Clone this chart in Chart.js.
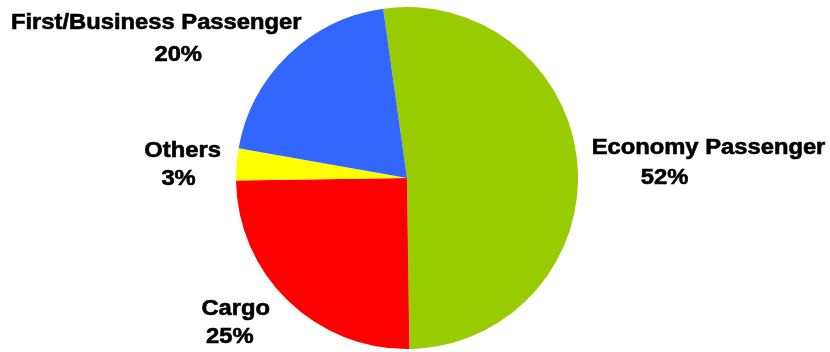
<!DOCTYPE html>
<html>
<head>
<meta charset="utf-8">
<title>Ingresos por segmento</title>
<script src="https://cdn.jsdelivr.net/npm/chart.js@4/dist/chart.umd.min.js"></script>
<style>
    body { margin: 0; background: #ffffff; }
    canvas { display: block; }
</style>
</head>
<body>
<canvas id="graficoIngresos" width="830" height="352"></canvas>
<script>
// Datos del gráfico
var categorias = ["Economy Passenger", "Cargo", "Others", "First/Business Passenger"];
var porcentajes = [52, 25, 3, 20];
var colores = ["#99cc00", "#ff0000", "#ffff00", "#3366ff"];

// Desplazamiento de cada línea de etiqueta (nombre, porcentaje) respecto al borde exterior del sector
var desplazamientos = [
    [[131, -17], [87, 13]],
    [[-52, 8], [-58, 36]],
    [[-54, -13], [-58, 15]],
    [[-132, -32], [-110, 0]],
];

// Plugin para dibujar las etiquetas fuera del pastel
var etiquetasPlugin = {
    id: "etiquetas",
    afterDatasetsDraw: function (chart) {
        var ctx = chart.ctx;
        var meta = chart.getDatasetMeta(0);
        ctx.save();
        ctx.font = "bold 22px 'Liberation Sans', Arial, sans-serif";
        ctx.fillStyle = "#000000";
        ctx.strokeStyle = "#000000";
        ctx.lineWidth = 0.6;
        ctx.textAlign = "center";
        ctx.textBaseline = "middle";
        meta.data.forEach(function (arco, i) {
            var angulo = (arco.startAngle + arco.endAngle) / 2;
            var x = arco.x + Math.cos(angulo) * arco.outerRadius;
            var y = arco.y + Math.sin(angulo) * arco.outerRadius;
            var lineas = [categorias[i], porcentajes[i] + "%"];
            lineas.forEach(function (texto, j) {
                ctx.save();
                ctx.translate(x + desplazamientos[i][j][0], y + desplazamientos[i][j][1]);
                ctx.scale(1.08, 1);
                ctx.fillText(texto, 0, 0);
                ctx.strokeText(texto, 0, 0);
                ctx.restore();
            });
        });
        ctx.restore();
    },
};

var ctx = document.getElementById("graficoIngresos").getContext("2d");
var myChart = new Chart(ctx, {
    type: "pie",
    data: {
        labels: categorias,
        datasets: [
            {
                data: porcentajes,
                backgroundColor: colores,
                borderWidth: 0,
            },
        ],
    },
    options: {
        responsive: false,
        animation: false,
        rotation: -8,
        layout: {
            padding: { top: 7, bottom: 3, left: 0, right: 16 },
        },
        plugins: {
            legend: { display: false },
            tooltip: { enabled: false },
        },
    },
    plugins: [etiquetasPlugin],
});
</script>
</body>
</html>
